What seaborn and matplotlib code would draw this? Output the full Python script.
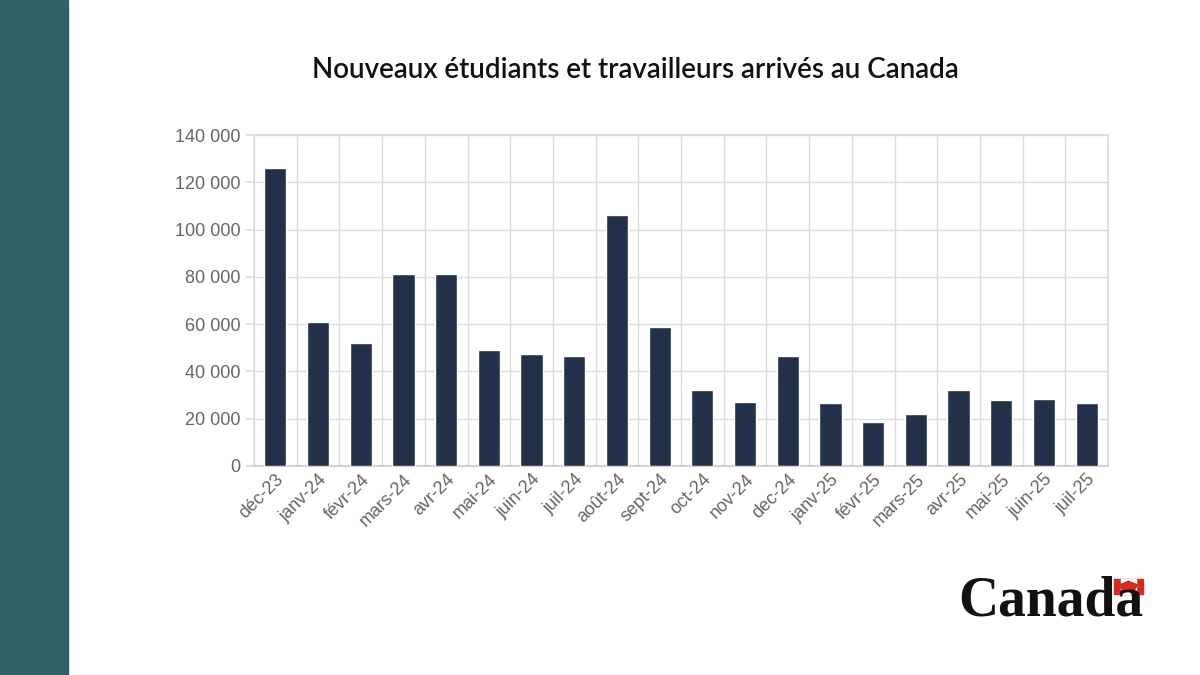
import matplotlib
matplotlib.use("Agg")
import matplotlib.pyplot as plt
import numpy as np
import pandas as pd
import seaborn as sns
from matplotlib.patches import Rectangle, RegularPolygon

months = ["déc-23", "janv-24", "févr-24", "mars-24", "avr-24", "mai-24", "juin-24",
          "juil-24", "août-24", "sept-24", "oct-24", "nov-24", "dec-24", "janv-25",
          "févr-25", "mars-25", "avr-25", "mai-25", "juin-25", "juil-25"]
arrivals = [126000, 61000, 52000, 81000, 81000, 49000, 47500, 46500, 106000, 59000,
            32000, 27000, 46500, 26500, 18500, 22000, 32000, 28000, 28500, 26500]
y_ticks = [0, 20000, 40000, 60000, 80000, 100000, 120000, 140000]

sns.set_theme(style="white")
plt.rcParams["font.family"] = ["Liberation Sans", "DejaVu Sans"]

df = pd.DataFrame({"mois": months, "arrivees": arrivals})

fig = plt.figure(figsize=(12, 6.75), dpi=100)
fig.patches.append(Rectangle((0, 0), 68 / 1200, 1, transform=fig.transFigure,
                             color="#335f66", zorder=0))

ax = fig.add_axes([254 / 1200, 1 - 466 / 675, 854 / 1200, 331 / 675])
sns.barplot(data=df, x="mois", y="arrivees", color="#22304a", width=0.52,
            saturation=1, ax=ax, zorder=3)
ax.set_xlim(-0.5, len(months) - 0.5)
ax.set_ylim(0, 140000)
ax.set_yticks(y_ticks)
ax.set_yticklabels([f"{v:,}".replace(",", " ") for v in y_ticks])
ax.set_xticks(np.arange(len(months)) - 0.5, minor=True)
ax.grid(True, axis="y", color="#dddddd", lw=1, zorder=0)
ax.grid(True, axis="x", which="minor", color="#dddddd", lw=1, zorder=0)
ax.set_xlabel("")
ax.set_ylabel("")
for s in ["top", "right", "left"]:
    ax.spines[s].set_color("#dddddd")
ax.spines["bottom"].set_color("#cccccc")
ax.tick_params(axis="y", colors="#666666", labelsize=13, length=6, color="#dddddd", left=True)
ax.tick_params(axis="x", colors="#666666", labelsize=13, length=0)
plt.setp(ax.get_xticklabels(), rotation=45, ha="right", rotation_mode="anchor")

fig.text(635 / 1200, 1 - 70 / 675, "Nouveaux étudiants et travailleurs arrivés au Canada",
         ha="center", va="center", fontsize=20, family=["Lato", "DejaVu Sans"],
         fontweight="semibold", color="#111111")

# Canada wordmark
fig.text(1143 / 1200, 1 - 602 / 675, "Canada", ha="right", va="center",
         fontsize=40, family=["Liberation Serif"], fontweight="bold", color="#111111")
fx, fy, fw, fh = 1114 / 1200, 1 - 594 / 675, 29 / 1200, 15 / 675
fig.patches.append(Rectangle((fx, fy), fw, fh, transform=fig.transFigure, color="#d52b1e"))
fig.patches.append(Rectangle((fx + fw * 0.25, fy), fw * 0.5, fh, transform=fig.transFigure,
                             color="white"))
fig.patches.append(RegularPolygon((fx + fw / 2, fy + fh / 2), numVertices=5,
                                  radius=fh * 0.35, transform=fig.transFigure,
                                  color="#d52b1e"))

fig.savefig("out.png", dpi=100)
